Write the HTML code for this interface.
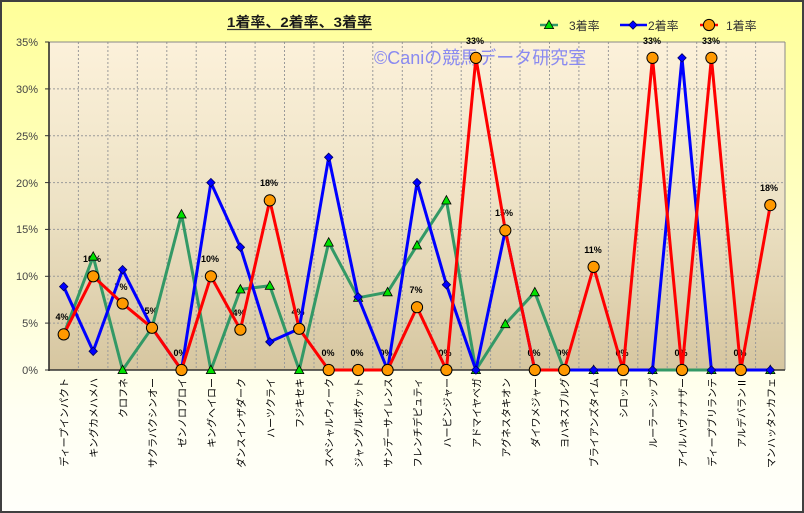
<!DOCTYPE html>
<html><head><meta charset="utf-8"><style>
html,body{margin:0;padding:0;}
body{width:804px;height:513px;overflow:hidden;}
svg{display:block;}
</style></head><body>
<svg width="804" height="513" viewBox="0 0 804 513" xmlns="http://www.w3.org/2000/svg">
<defs>
<linearGradient id="bg" x1="0" y1="0" x2="0" y2="1">
<stop offset="0" stop-color="#FFFF99"/>
<stop offset="0.45" stop-color="#FFFFC8"/>
<stop offset="0.8" stop-color="#FFFFF2"/>
<stop offset="1" stop-color="#FFFFFA"/>
</linearGradient>
<linearGradient id="pbg" x1="0" y1="0" x2="0" y2="1">
<stop offset="0" stop-color="#FCF1DA"/>
<stop offset="0.5" stop-color="#EDE2C5"/>
<stop offset="1" stop-color="#D6C6A0"/>
</linearGradient>
<polygon id="tri" points="0,-4.8 4.6,3.6 -4.6,3.6" fill="#00E000" stroke="#000" stroke-width="0.8"/>
<polygon id="dia" points="0,-4.2 4.2,0 0,4.2 -4.2,0" fill="#0000FF" stroke="#000060" stroke-width="0.8"/>
<circle id="cir" r="5.6" fill="#FF9900" stroke="#000" stroke-width="1"/>
</defs>
<rect x="0" y="0" width="804" height="513" fill="url(#bg)"/>
<rect x="1" y="1" width="802" height="511" fill="none" stroke="#404040" stroke-width="2"/>

<!-- Title -->
<text x="227" y="27" font-family="Liberation Sans, Noto Sans CJK JP, sans-serif" font-size="14" font-weight="bold" fill="#1a1a1a" textLength="145" lengthAdjust="spacingAndGlyphs">1着率、2着率、3着率</text>
<line x1="227" y1="29.5" x2="372" y2="29.5" stroke="#333" stroke-width="1.2"/>

<!-- Legend -->
<g font-family="Liberation Sans, Noto Sans CJK JP, sans-serif" font-size="12" fill="#333">
<line x1="540" y1="25" x2="558" y2="25" stroke="#339966" stroke-width="2.5"/>
<use href="#tri" x="549" y="25" transform="translate(0,0)"/>
<text x="569" y="30">3着率</text>
<line x1="620" y1="25" x2="647" y2="25" stroke="#0000FF" stroke-width="2.5"/>
<use href="#dia" x="633" y="25"/>
<text x="648" y="30">2着率</text>
<line x1="700" y1="25" x2="718" y2="25" stroke="#FF0000" stroke-width="2.5"/>
<use href="#cir" x="709" y="25"/>
<text x="726" y="30">1着率</text>
</g>

<!-- Plot area -->
<rect x="49" y="42" width="736" height="328" fill="url(#pbg)"/>
<g stroke="#9a9a9a" stroke-width="1" stroke-dasharray="2,2">
<line x1="49" y1="88.9" x2="785" y2="88.9"/>
<line x1="49" y1="135.7" x2="785" y2="135.7"/>
<line x1="49" y1="182.6" x2="785" y2="182.6"/>
<line x1="49" y1="229.4" x2="785" y2="229.4"/>
<line x1="49" y1="276.3" x2="785" y2="276.3"/>
<line x1="49" y1="323.1" x2="785" y2="323.1"/>
<line x1="78.4" y1="42" x2="78.4" y2="370"/>
<line x1="107.9" y1="42" x2="107.9" y2="370"/>
<line x1="137.3" y1="42" x2="137.3" y2="370"/>
<line x1="166.8" y1="42" x2="166.8" y2="370"/>
<line x1="196.2" y1="42" x2="196.2" y2="370"/>
<line x1="225.6" y1="42" x2="225.6" y2="370"/>
<line x1="255.1" y1="42" x2="255.1" y2="370"/>
<line x1="284.5" y1="42" x2="284.5" y2="370"/>
<line x1="314.0" y1="42" x2="314.0" y2="370"/>
<line x1="343.4" y1="42" x2="343.4" y2="370"/>
<line x1="372.8" y1="42" x2="372.8" y2="370"/>
<line x1="402.3" y1="42" x2="402.3" y2="370"/>
<line x1="431.7" y1="42" x2="431.7" y2="370"/>
<line x1="461.2" y1="42" x2="461.2" y2="370"/>
<line x1="490.6" y1="42" x2="490.6" y2="370"/>
<line x1="520.0" y1="42" x2="520.0" y2="370"/>
<line x1="549.5" y1="42" x2="549.5" y2="370"/>
<line x1="578.9" y1="42" x2="578.9" y2="370"/>
<line x1="608.4" y1="42" x2="608.4" y2="370"/>
<line x1="637.8" y1="42" x2="637.8" y2="370"/>
<line x1="667.2" y1="42" x2="667.2" y2="370"/>
<line x1="696.7" y1="42" x2="696.7" y2="370"/>
<line x1="726.1" y1="42" x2="726.1" y2="370"/>
<line x1="755.6" y1="42" x2="755.6" y2="370"/>
</g>
<line x1="49" y1="42" x2="785" y2="42" stroke="#888" stroke-width="1"/>
<line x1="785" y1="42" x2="785" y2="370" stroke="#888" stroke-width="1"/>
<line x1="49" y1="42" x2="49" y2="371" stroke="#222" stroke-width="1.5"/>
<line x1="48" y1="370" x2="785" y2="370" stroke="#333" stroke-width="1.5"/>
<g stroke="#333" stroke-width="1">
<line x1="45" y1="42" x2="49" y2="42"/><line x1="45" y1="88.9" x2="49" y2="88.9"/><line x1="45" y1="135.7" x2="49" y2="135.7"/><line x1="45" y1="182.6" x2="49" y2="182.6"/><line x1="45" y1="229.4" x2="49" y2="229.4"/><line x1="45" y1="276.3" x2="49" y2="276.3"/><line x1="45" y1="323.1" x2="49" y2="323.1"/><line x1="45" y1="370" x2="49" y2="370"/>
</g>

<!-- Y labels -->
<g font-family="Liberation Sans, sans-serif" font-size="11" fill="#444" text-anchor="end">
<text x="38" y="46">35%</text>
<text x="38" y="93">30%</text>
<text x="38" y="140">25%</text>
<text x="38" y="187">20%</text>
<text x="38" y="233">15%</text>
<text x="38" y="280">10%</text>
<text x="38" y="327">5%</text>
<text x="38" y="374">0%</text>
</g>

<!-- Watermark -->
<text x="374" y="64" font-family="Liberation Sans, Noto Sans CJK JP, sans-serif" font-size="18" fill="#8A8AF0">©Caniの競馬データ研究室</text>

<!-- Data labels -->
<g font-family="Liberation Sans, sans-serif" font-size="9" font-weight="bold" fill="#000" text-anchor="middle">
<text x="62" y="320">4%</text>
<text x="92" y="262">10%</text>
<text x="121" y="290">7%</text>
<text x="151" y="314">5%</text>
<text x="180" y="356">0%</text>
<text x="210" y="262">10%</text>
<text x="239" y="316">4%</text>
<text x="269" y="186">18%</text>
<text x="298" y="315">4%</text>
<text x="328" y="356">0%</text>
<text x="357" y="356">0%</text>
<text x="386" y="356">0%</text>
<text x="416" y="293">7%</text>
<text x="445" y="356">0%</text>
<text x="475" y="44">33%</text>
<text x="504" y="216">15%</text>
<text x="534" y="356">0%</text>
<text x="563" y="356">0%</text>
<text x="593" y="253">11%</text>
<text x="622" y="356">0%</text>
<text x="652" y="44">33%</text>
<text x="681" y="356">0%</text>
<text x="711" y="44">33%</text>
<text x="740" y="356">0%</text>
<text x="769" y="191">18%</text>
</g>

<!-- Green series -->
<polyline fill="none" stroke="#339966" stroke-width="3" stroke-linejoin="round" points="63.7,334.4 93.2,256.6 122.6,370 152.0,327.8 181.5,214.4 210.9,370 240.4,289.4 269.8,285.7 299.2,370 328.7,242.5 358.1,297.8 387.6,292.2 417.0,245.4 446.4,200.4 475.9,370 505.3,324.1 534.8,292.2 564.2,370 593.6,370 623.1,370 652.5,370 682.0,370 711.4,370 740.8,370 770.3,370"/>
<g>
<use href="#tri" x="63.7" y="334.4"/><use href="#tri" x="93.2" y="256.6"/><use href="#tri" x="122.6" y="370"/><use href="#tri" x="152.0" y="327.8"/><use href="#tri" x="181.5" y="214.4"/><use href="#tri" x="210.9" y="370"/><use href="#tri" x="240.4" y="289.4"/><use href="#tri" x="269.8" y="285.7"/><use href="#tri" x="299.2" y="370"/><use href="#tri" x="328.7" y="242.5"/><use href="#tri" x="358.1" y="297.8"/><use href="#tri" x="387.6" y="292.2"/><use href="#tri" x="417.0" y="245.4"/><use href="#tri" x="446.4" y="200.4"/><use href="#tri" x="475.9" y="370"/><use href="#tri" x="505.3" y="324.1"/><use href="#tri" x="534.8" y="292.2"/><use href="#tri" x="564.2" y="370"/><use href="#tri" x="593.6" y="370"/><use href="#tri" x="623.1" y="370"/><use href="#tri" x="652.5" y="370"/><use href="#tri" x="682.0" y="370"/><use href="#tri" x="711.4" y="370"/><use href="#tri" x="740.8" y="370"/><use href="#tri" x="770.3" y="370"/>
</g>

<!-- Blue series -->
<polyline fill="none" stroke="#0000FF" stroke-width="3" stroke-linejoin="round" points="63.7,286.6 93.2,351.3 122.6,269.7 152.0,327.8 181.5,370 210.9,182.6 240.4,247.2 269.8,341.9 299.2,328.8 328.7,157.3 358.1,296.9 387.6,370 417.0,182.6 446.4,284.7 475.9,370 505.3,230.4 534.8,370 564.2,370 593.6,370 623.1,370 652.5,370 682.0,57.9 711.4,370 740.8,370 770.3,370"/>
<g>
<use href="#dia" x="63.7" y="286.6"/><use href="#dia" x="93.2" y="351.3"/><use href="#dia" x="122.6" y="269.7"/><use href="#dia" x="152.0" y="327.8"/><use href="#dia" x="181.5" y="370"/><use href="#dia" x="210.9" y="182.6"/><use href="#dia" x="240.4" y="247.2"/><use href="#dia" x="269.8" y="341.9"/><use href="#dia" x="299.2" y="328.8"/><use href="#dia" x="328.7" y="157.3"/><use href="#dia" x="358.1" y="296.9"/><use href="#dia" x="387.6" y="370"/><use href="#dia" x="417.0" y="182.6"/><use href="#dia" x="446.4" y="284.7"/><use href="#dia" x="475.9" y="370"/><use href="#dia" x="505.3" y="230.4"/><use href="#dia" x="534.8" y="370"/><use href="#dia" x="564.2" y="370"/><use href="#dia" x="593.6" y="370"/><use href="#dia" x="623.1" y="370"/><use href="#dia" x="652.5" y="370"/><use href="#dia" x="682.0" y="57.9"/><use href="#dia" x="711.4" y="370"/><use href="#dia" x="740.8" y="370"/><use href="#dia" x="770.3" y="370"/>
</g>

<!-- Red series -->
<polyline fill="none" stroke="#FF0000" stroke-width="3" stroke-linejoin="round" points="63.7,334.4 93.2,276.3 122.6,303.5 152.0,327.8 181.5,370 210.9,276.3 240.4,329.7 269.8,200.4 299.2,328.8 328.7,370 358.1,370 387.6,370 417.0,307.2 446.4,370 475.9,57.9 505.3,230.4 534.8,370 564.2,370 593.6,266.9 623.1,370 652.5,57.9 682.0,370 711.4,57.9 740.8,370 770.3,205.1"/>
<g>
<use href="#cir" x="63.7" y="334.4"/><use href="#cir" x="93.2" y="276.3"/><use href="#cir" x="122.6" y="303.5"/><use href="#cir" x="152.0" y="327.8"/><use href="#cir" x="181.5" y="370"/><use href="#cir" x="210.9" y="276.3"/><use href="#cir" x="240.4" y="329.7"/><use href="#cir" x="269.8" y="200.4"/><use href="#cir" x="299.2" y="328.8"/><use href="#cir" x="328.7" y="370"/><use href="#cir" x="358.1" y="370"/><use href="#cir" x="387.6" y="370"/><use href="#cir" x="417.0" y="307.2"/><use href="#cir" x="446.4" y="370"/><use href="#cir" x="475.9" y="57.9"/><use href="#cir" x="505.3" y="230.4"/><use href="#cir" x="534.8" y="370"/><use href="#cir" x="564.2" y="370"/><use href="#cir" x="593.6" y="266.9"/><use href="#cir" x="623.1" y="370"/><use href="#cir" x="652.5" y="57.9"/><use href="#cir" x="682.0" y="370"/><use href="#cir" x="711.4" y="57.9"/><use href="#cir" x="740.8" y="370"/><use href="#cir" x="770.3" y="205.1"/>
</g>

<!-- X labels -->
<g font-family="Liberation Sans, Noto Sans CJK JP, sans-serif" font-size="10" fill="#000" text-anchor="end">
<text transform="translate(68.2,378) rotate(-90)">ディープインパクト</text>
<text transform="translate(97.7,378) rotate(-90)">キングカメハメハ</text>
<text transform="translate(127.1,378) rotate(-90)">クロフネ</text>
<text transform="translate(156.5,378) rotate(-90)">サクラバクシンオー</text>
<text transform="translate(186.0,378) rotate(-90)">ゼンノロブロイ</text>
<text transform="translate(215.4,378) rotate(-90)">キングヘイロー</text>
<text transform="translate(244.9,378) rotate(-90)">ダンスインザダーク</text>
<text transform="translate(274.3,378) rotate(-90)">ハーツクライ</text>
<text transform="translate(303.7,378) rotate(-90)">フジキセキ</text>
<text transform="translate(333.2,378) rotate(-90)">スペシャルウィーク</text>
<text transform="translate(362.6,378) rotate(-90)">ジャングルポケット</text>
<text transform="translate(392.1,378) rotate(-90)">サンデーサイレンス</text>
<text transform="translate(421.5,378) rotate(-90)">フレンチデピュティ</text>
<text transform="translate(450.9,378) rotate(-90)">ハービンジャー</text>
<text transform="translate(480.4,378) rotate(-90)">アドマイヤベガ</text>
<text transform="translate(509.8,378) rotate(-90)">アグネスタキオン</text>
<text transform="translate(539.3,378) rotate(-90)">ダイワメジャー</text>
<text transform="translate(568.7,378) rotate(-90)">ヨハネスブルグ</text>
<text transform="translate(598.1,378) rotate(-90)">ブライアンズタイム</text>
<text transform="translate(627.6,378) rotate(-90)">シロッコ</text>
<text transform="translate(657.0,378) rotate(-90)">ルーラーシップ</text>
<text transform="translate(686.5,378) rotate(-90)">アイルハヴァナザー</text>
<text transform="translate(715.9,378) rotate(-90)">ディープブリランテ</text>
<text transform="translate(745.3,378) rotate(-90)">アルデバランⅡ</text>
<text transform="translate(774.8,378) rotate(-90)">マンハッタンカフェ</text>
</g>
</svg>
</body></html>
